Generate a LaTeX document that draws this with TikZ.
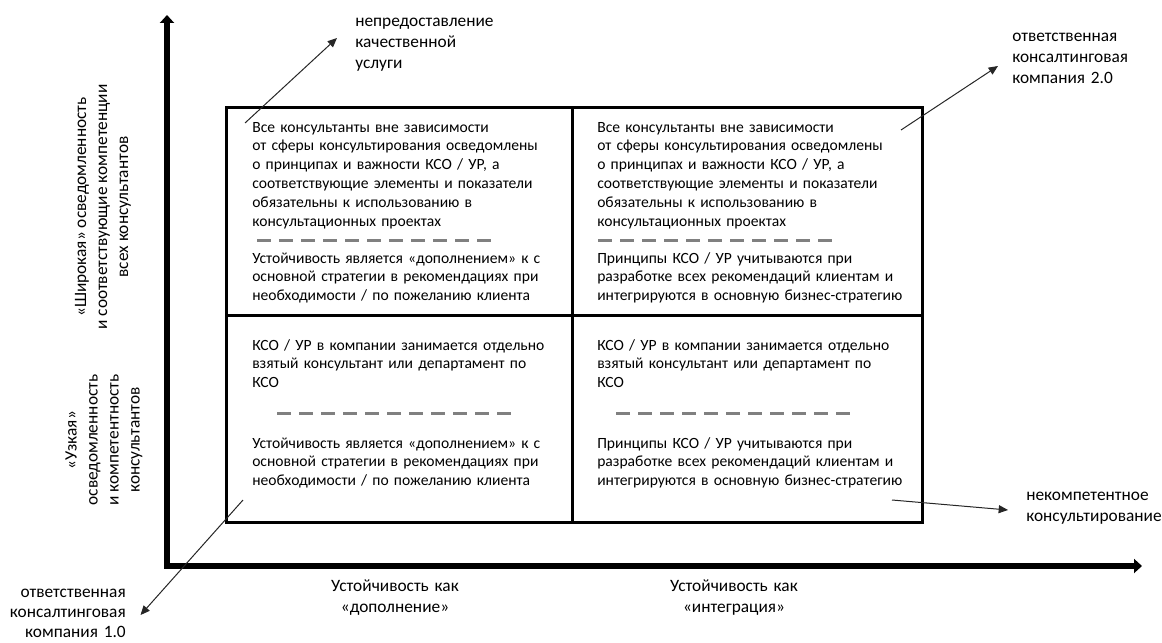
\documentclass[tikz,border=0pt]{standalone}
\usepackage{fontspec}
\setmainfont{Carlito}
\usetikzlibrary{arrows.meta}
\begin{document}
\begin{tikzpicture}[x=0.75pt,y=-0.75pt,
  boxtext/.style={anchor=base west, inner sep=0pt, text width=260pt, align=left, font=\fontsize{11.7}{14.1}\selectfont},
  lbl/.style={inner sep=0pt, font=\fontsize{13}{15.75}\selectfont},
  lblleft/.style={lbl, anchor=base west, text width=150pt, align=left},
  lblright/.style={lbl, anchor=base east, text width=150pt, align=right},
  lblcenter/.style={lbl, anchor=base, text width=150pt, align=center},
  axisline/.style={line width=4.5pt, line join=miter, {Triangle[length=6pt,width=10.5pt]}-{Triangle[length=6pt,width=10.5pt]}},
  gridline/.style={line width=2.25pt, line join=miter},
  sepline/.style={line width=2.25pt, draw={rgb,255:red,128;green,128;blue,128}, dash pattern=on 10.5pt off 6pt},
  pointer/.style={line width=0.75pt, draw=black!85, -{Triangle[length=7pt,width=6pt]}}
]
\useasboundingbox (0,0) rectangle (1162,642);

% axes
\coordinate (ytop) at (167,15);
\coordinate (origin) at (167,566);
\coordinate (xend) at (1142,566);
\draw[axisline] (ytop) -- (origin) -- (xend);

% grid
\coordinate (gtl) at (226,107);
\coordinate (gbr) at (922,522);
\draw[gridline] (gtl) rectangle (gbr);
\draw[gridline] (572,107) -- (572,522);
\draw[gridline] (226,315) -- (922,315);

% quadrant texts
\node[boxtext] (tlA) at (252,132) {Все консультанты вне зависимости\\от сферы консультирования осведомлены\\о принципах и важности КСО / УР, а\\соответствующие элементы и показатели\\обязательны к использованию в\\консультационных проектах};
\node[boxtext] (tlB) at (252,263) {Устойчивость является «дополнением» к с\\основной стратегии в рекомендациях при\\необходимости / по пожеланию клиента};
\node[boxtext] (trA) at (597,132) {Все консультанты вне зависимости\\от сферы консультирования осведомлены\\о принципах и важности КСО / УР, а\\соответствующие элементы и показатели\\обязательны к использованию в\\консультационных проектах};
\node[boxtext] (trB) at (597,263) {Принципы КСО / УР учитываются при\\разработке всех рекомендаций клиентам и\\интегрируются в основную бизнес-стратегию};
\node[boxtext] (blA) at (252,350) {КСО / УР в компании занимается отдельно\\взятый консультант или департамент по\\КСО};
\node[boxtext] (blB) at (252,448) {Устойчивость является «дополнением» к с\\основной стратегии в рекомендациях при\\необходимости / по пожеланию клиента};
\node[boxtext] (brA) at (597,350) {КСО / УР в компании занимается отдельно\\взятый консультант или департамент по\\КСО};
\node[boxtext] (brB) at (597,448) {Принципы КСО / УР учитываются при\\разработке всех рекомендаций клиентам и\\интегрируются в основную бизнес-стратегию};

% separators
\draw[sepline] (257,240) -- (491,240);
\draw[sepline] (598,240) -- (832,240);
\draw[sepline] (277,413) -- (511,413);
\draw[sepline] (616,413) -- (850,413);

% axis labels
\node[lbl, rotate=90, align=center] (yhigh) at (103,207) {«Широкая» осведомленность\\и соответствующие компетенции\\всех консультантов};
\node[lbl, rotate=90, align=center] (ylow) at (104,440) {«Узкая»\\осведомленность\\и компетентность\\консультантов};
\node[lblcenter] (xleft) at (395,591) {Устойчивость как\\«дополнение»};
\node[lblcenter] (xright) at (734,591) {Устойчивость как\\«интеграция»};

% outcome labels
\node[lblleft] (nq) at (355,27) {непредоставление\\качественной\\услуги};
\node[lblleft] (rc2) at (1012,42) {ответственная\\консалтинговая\\компания 2.0};
\node[lblleft] (inc) at (1026,500) {некомпетентное\\консультирование};
\node[lblright, font=\fontsize{13}{15}\selectfont] (rc1) at (126,597) {ответственная\\консалтинговая\\компания 1.0};

% pointers
\coordinate (p1s) at (245,123); \coordinate (p1e) at (337,38);
\coordinate (p2s) at (901,130); \coordinate (p2e) at (998,66);
\coordinate (p3s) at (892,500); \coordinate (p3e) at (1008,510);
\coordinate (p4s) at (243,500); \coordinate (p4e) at (140.5,615);
\draw[pointer] (p1s) -- (p1e);
\draw[pointer] (p2s) -- (p2e);
\draw[pointer] (p3s) -- (p3e);
\draw[pointer] (p4s) -- (p4e);
\end{tikzpicture}
\end{document}
